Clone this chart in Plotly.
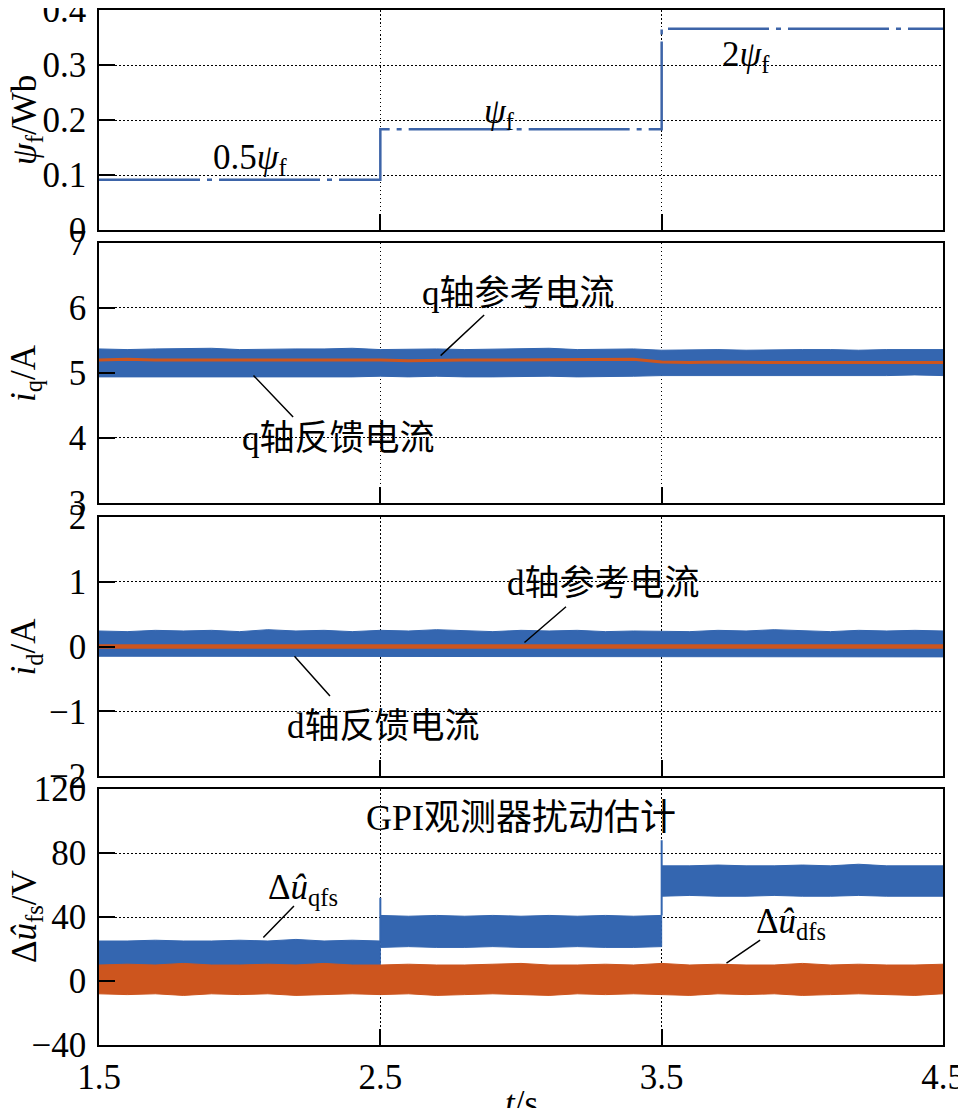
import plotly.graph_objects as go
from plotly.subplots import make_subplots

# ---------------- data ----------------
# panel 1: flux linkage steps
psi_t = [1.5, 2.5, 2.5, 3.5, 3.5, 4.5]
psi_v = [0.0915, 0.0915, 0.183, 0.183, 0.366, 0.366]

# common time grid for envelopes
t = [1.5, 1.6, 1.7, 1.8, 1.9, 2.0, 2.1, 2.2, 2.3, 2.4, 2.5, 2.6, 2.7, 2.8, 2.9, 3.0,
     3.1, 3.2, 3.3, 3.4, 3.5, 3.6, 3.7, 3.8, 3.9, 4.0, 4.1, 4.2, 4.3, 4.4, 4.5]

# panel 2: q-axis current (feedback envelope + reference)
iq_upper = [5.37, 5.36, 5.37, 5.37, 5.38, 5.36, 5.37, 5.37, 5.37, 5.38, 5.36, 5.37, 5.37, 5.36, 5.37, 5.37,
            5.38, 5.36, 5.37, 5.37, 5.35, 5.36, 5.36, 5.35, 5.36, 5.36, 5.36, 5.35, 5.36, 5.36, 5.36]
iq_lower = [4.94, 4.95, 4.94, 4.95, 4.94, 4.95, 4.94, 4.95, 4.94, 4.94, 4.95, 4.94, 4.95, 4.94, 4.94, 4.94,
            4.95, 4.94, 4.94, 4.95, 4.96, 4.96, 4.96, 4.97, 4.96, 4.96, 4.97, 4.96, 4.96, 4.97, 4.96]
iq_ref = [5.20, 5.21, 5.20, 5.20, 5.21, 5.20, 5.20, 5.21, 5.20, 5.20, 5.20, 5.19, 5.20, 5.20, 5.20, 5.20,
          5.20, 5.20, 5.21, 5.21, 5.17, 5.16, 5.17, 5.16, 5.16, 5.16, 5.16, 5.16, 5.16, 5.16, 5.16]

# panel 3: d-axis current
id_upper = [0.24, 0.23, 0.25, 0.24, 0.25, 0.23, 0.26, 0.24, 0.25, 0.23, 0.25, 0.24, 0.26, 0.24, 0.23, 0.25,
            0.24, 0.25, 0.23, 0.24, 0.24, 0.23, 0.25, 0.24, 0.26, 0.24, 0.23, 0.25, 0.24, 0.25, 0.24]
id_lower = [-0.15, -0.16, -0.15, -0.16, -0.15, -0.16, -0.16, -0.15, -0.16, -0.15, -0.16, -0.16, -0.15, -0.16,
            -0.16, -0.15, -0.16, -0.15, -0.16, -0.16, -0.15, -0.16, -0.16, -0.15, -0.16, -0.16, -0.15, -0.16,
            -0.15, -0.16, -0.16]
id_ref_t = [1.5, 4.5]
id_ref = [0.0, 0.0]

# panel 4: GPI disturbance estimates
t_seg1 = [1.5, 1.6, 1.7, 1.8, 1.9, 2.0, 2.1, 2.2, 2.3, 2.4, 2.5]
t_seg2 = [2.5, 2.6, 2.7, 2.8, 2.9, 3.0, 3.1, 3.2, 3.3, 3.4, 3.5]
t_seg3 = [3.5, 3.6, 3.7, 3.8, 3.9, 4.0, 4.1, 4.2, 4.3, 4.4, 4.5]
uq_upper1 = [25, 25, 25.5, 25, 25, 25.5, 25, 26, 25, 25.5, 25]
uq_lower1 = [10, 9, 10, 9, 10, 9, 10, 9, 10, 9, 10]
uq_upper2 = [41, 40.5, 41, 40.5, 41, 40.5, 41, 40.5, 41, 40.5, 41]
uq_lower2 = [21, 21.5, 21, 21, 21.5, 21, 21, 21.5, 21, 21, 21.5]
uq_upper3 = [72, 72, 72.5, 72, 72, 72.5, 72, 73, 72, 72, 72]
uq_lower3 = [53, 53.5, 53, 53, 53.5, 53, 53, 53.5, 53, 53, 53]
spike_t = [2.5, 3.5]
spike_base = [25, 41]
spike_top = [52, 88]
ud_upper = [10, 10.5, 10, 11, 10, 10, 10.5, 10, 11, 10, 10, 10.5, 10, 10, 10.5, 11, 10, 10, 10.5, 10, 11,
            10, 10.5, 10, 10, 11, 10, 10.5, 10, 10, 10.5]
ud_lower = [-8, -8.5, -8, -9, -8, -8.5, -8, -9, -8.5, -8, -8.5, -8, -9, -8.5, -8, -8.5, -9, -8, -8.5, -8,
            -8.5, -9, -8, -8.5, -8, -9, -8.5, -8, -8.5, -9, -8]

x_ticks = [1.5, 2.5, 3.5, 4.5]
x_tick_text = ["1.5", "2.5", "3.5", "4.5"]

# ---------------- styling ----------------
BLUE = "#3466B0"
ORANGE = "#CD551E"
PSI_BLUE = "#3D64A8"
FONT = "Liberation Serif, 'Noto Sans CJK SC', serif"

fig = make_subplots(rows=4, cols=1, vertical_spacing=0.01)


def band(x, lo, hi, color, row):
    xs = list(x) + list(reversed(x))
    ys = list(hi) + list(reversed(lo))
    fig.add_trace(go.Scatter(x=xs, y=ys, fill="toself", fillcolor=color, mode="lines",
                             line=dict(color=color, width=1), hoverinfo="skip", showlegend=False),
                  row=row, col=1)


# panel 1
fig.add_trace(go.Scatter(x=psi_t, y=psi_v, mode="lines",
                         line=dict(color=PSI_BLUE, width=2.5, dash="101px,7px,5px,7px"),
                         showlegend=False), row=1, col=1)
# panel 2
band(t, iq_lower, iq_upper, BLUE, 2)
fig.add_trace(go.Scatter(x=t, y=iq_ref, mode="lines", line=dict(color=ORANGE, width=3),
                         showlegend=False), row=2, col=1)
# panel 3
band(t, id_lower, id_upper, BLUE, 3)
fig.add_trace(go.Scatter(x=id_ref_t, y=id_ref, mode="lines", line=dict(color=ORANGE, width=4.5),
                         showlegend=False), row=3, col=1)
# panel 4
band(t_seg1, uq_lower1, uq_upper1, BLUE, 4)
band(t_seg2, uq_lower2, uq_upper2, BLUE, 4)
band(t_seg3, uq_lower3, uq_upper3, BLUE, 4)
sx, sy = [], []
for st, sb, stp in zip(spike_t, spike_base, spike_top):
    sx += [st, st, None]
    sy += [sb, stp, None]
fig.add_trace(go.Scatter(x=sx, y=sy, mode="lines", line=dict(color=BLUE, width=2),
                         showlegend=False), row=4, col=1)
band(t, ud_lower, ud_upper, ORANGE, 4)

# ---------------- axes ----------------
# plot area height in the figure: 1100 - 2 - 63 = 1035 px
domains = [[0.7874, 1.0], [0.5237, 0.7749], [0.2599, 0.5101], [0.0, 0.2473]]
y_ranges = [[0, 0.4], [3, 7], [-2, 2], [-40, 120]]
y_ticks = [[0, 0.1, 0.2, 0.3, 0.4], [3, 4, 5, 6, 7], [-2, -1, 0, 1, 2], [-40, 0, 40, 80, 120]]
y_tick_text = [["0", "0.1", "0.2", "0.3", "0.4"], ["3", "4", "5", "6", "7"],
               ["−2", "−1", "0", "1", "2"], ["−40", "0", "40", "80", "120"]]

axis_common = dict(showline=True, linecolor="black", linewidth=1.5, mirror=True,
                   ticks="inside", ticklen=16, tickwidth=1.5, tickcolor="black",
                   showgrid=True, gridcolor="black", gridwidth=1, griddash="1.5px,2.5px",
                   zeroline=False, automargin=False, ticklabeloverflow="allow",
                   tickfont=dict(family=FONT, size=35, color="black"))

for i in range(4):
    fig.update_yaxes(row=i + 1, col=1, domain=domains[i], range=y_ranges[i], tickvals=y_ticks[i],
                     ticktext=y_tick_text[i], ticklabelstandoff=4, **axis_common)
    fig.update_xaxes(row=i + 1, col=1, range=[1.5, 4.5], tickvals=x_ticks, ticktext=x_tick_text,
                     showticklabels=(i == 3), **axis_common)

# ---------------- text annotations ----------------
txt = dict(family=FONT, size=35, color="black")
cjk = dict(family=FONT, size=35, color="black")

ann = [
    ("0.5<i>ψ</i><sub>f</sub>", 2.037, 0.128, "x", "y", txt),
    ("<i>ψ</i><sub>f</sub>", 2.925, 0.212, "x", "y", txt),
    ("2<i>ψ</i><sub>f</sub>", 3.80, 0.315, "x", "y", txt),
    ("q轴参考电流", 2.99, 6.215, "x2", "y2", cjk),
    ("q轴反馈电流", 2.35, 3.985, "x2", "y2", cjk),
    ("d轴参考电流", 3.295, 0.97, "x3", "y3", cjk),
    ("d轴反馈电流", 2.51, -1.23, "x3", "y3", cjk),
    ("GPI观测器扰动估计", 3.0, 101.9, "x4", "y4", dict(family=FONT, size=36, color="black")),
    ("Δ<i>û</i><sub>qfs</sub>", 2.225, 57.5, "x4", "y4", txt),
    ("Δ<i>û</i><sub>dfs</sub>", 3.96, 36.0, "x4", "y4", txt),
]
for text, x, y, xr, yr, f in ann:
    fig.add_annotation(text=text, x=x, y=y, xref=xr, yref=yr, showarrow=False, font=f,
                       xanchor="center", yanchor="middle")

# leader lines (start -> end in data coordinates)
leaders = [
    (2.709, 5.246, 2.869, 5.892, "x2", "y2"),
    (2.044, 4.985, 2.190, 4.323, "x2", "y2"),
    (3.007, 0.042, 3.160, 0.615, "x3", "y3"),
    (2.190, -0.128, 2.321, -0.763, "x3", "y3"),
    (2.079, 26.25, 2.193, 46.9, "x4", "y4"),
    (3.725, 10.6, 3.850, 25.6, "x4", "y4"),
]
for x0, y0, x1, y1, xr, yr in leaders:
    fig.add_annotation(x=x1, y=y1, ax=x0, ay=y0, xref=xr, yref=yr, axref=xr, ayref=yr,
                       text="", showarrow=True, arrowhead=0, arrowwidth=1.5, arrowcolor="black",
                       standoff=0, startstandoff=0)

# y-axis titles
ytitles = [
    ("<i>ψ</i><sub>f</sub>/Wb", "y domain"),
    ("<i>i</i><sub>q</sub>/A", "y2 domain"),
    ("<i>i</i><sub>d</sub>/A", "y3 domain"),
    ("Δ<i>û</i><sub>fs</sub>/V", "y4 domain"),
]
for text, yr in ytitles:
    fig.add_annotation(text=text, xref="paper", x=0, xshift=-73, yref=yr, y=0.5,
                       textangle=-90, showarrow=False, font=txt, xanchor="center", yanchor="middle")

fig.add_annotation(text="<i>t</i>/s", xref="x4", x=3.0, yref="paper", y=0, yshift=-58,
                   showarrow=False, font=txt, xanchor="center", yanchor="middle")

# the page body adds an 8px offset, so the figure is sized and placed to compensate
fig.update_layout(template="none", width=950, height=1100, margin=dict(l=91, r=15, t=2, b=63),
                  paper_bgcolor="white", plot_bgcolor="white", showlegend=False,
                  font=dict(family=FONT, color="black"))

fig.write_html("out.html")
